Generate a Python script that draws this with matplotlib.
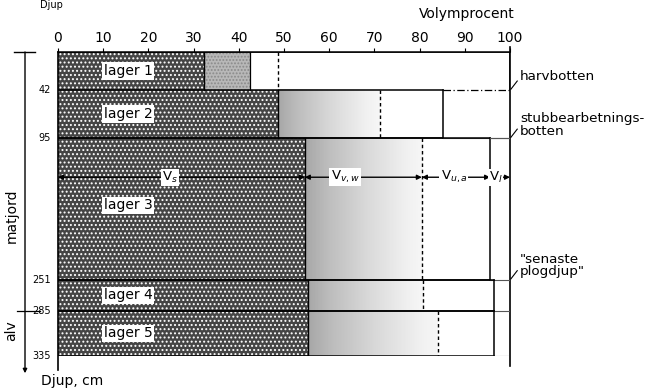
import numpy as np
import matplotlib
matplotlib.use("Agg")
import matplotlib.pyplot as plt
from matplotlib.patches import Rectangle

plt.rcParams['font.family'] = ['DejaVu Sans']
plt.rcParams['hatch.linewidth'] = 0.9

# soil layers, depth in cm
layer_names = ['lager 1', 'lager 2', 'lager 3', 'lager 4', 'lager 5']
depth_top = [0, 42, 95, 251, 285]
depth_bot = [42, 95, 251, 285, 335]
depth_ticks = [42, 95, 251, 285, 335]

# volume percent boundaries for each layer
solid_end = [32.3, 48.7, 54.6, 55.3, 55.3]   # V_s
water_end = [42.5, 71.2, 80.5, 80.8, 84.0]   # V_v,w
dashed_x = [48.7, 71.2, 80.5, 80.8, 84.0]
pore_end = [100, 85.2, 95.6, 96.5, 96.5]     # V_u,a, rest is V_l

fig = plt.figure(figsize=(6.48, 3.91), dpi=100)
ax = fig.add_axes([58 / 648, 35 / 391, 452 / 648, 304 / 391])

grad = np.linspace(0, 1, 64).reshape(1, -1)

for i in range(len(layer_names)):
    top, bot = depth_top[i], depth_bot[i]
    h = bot - top
    # solid phase, speckled
    ax.add_patch(Rectangle((0, top), solid_end[i], h, facecolor='#454545',
                           edgecolor='white', hatch='....', lw=0, zorder=1))
    # water filled pores
    if i == 0:
        ax.add_patch(Rectangle((solid_end[i], top), water_end[i] - solid_end[i], h,
                               facecolor='#b8b8b8', edgecolor='#8a8a8a', hatch='.....',
                               lw=0, zorder=1))
    else:
        ax.imshow(grad, cmap='Greys_r', vmin=-1.5, vmax=1.2, aspect='auto',
                  extent=(solid_end[i], water_end[i], bot, top), zorder=1,
                  interpolation='bilinear')
    # outlines: top, right, bottom (layer 1 bottom is the next layer's top)
    ax.plot([0, pore_end[i]], [top, top], color='black', lw=1.1, zorder=3)
    ax.plot([pore_end[i]] * 2, [top, bot], color='black', lw=1.1, zorder=3)
    if i > 0:
        ax.plot([0, pore_end[i]], [bot, bot], color='black', lw=1.1, zorder=3)
    ax.plot([solid_end[i]] * 2, [top, bot], color='black', lw=1.0, zorder=3)
    if i == 0:
        ax.plot([water_end[i]] * 2, [top, bot], color='black', lw=0.9, zorder=3)
    ax.plot([dashed_x[i]] * 2, [top, bot], color='black', lw=1.0,
            ls=(0, (2.5, 2)), zorder=3)
    if pore_end[i] < 100:
        ax.plot([pore_end[i], 100], [bot, bot], color='#555555', lw=0.8, zorder=3)
    ax.text(15.5, (top + bot) / 2 + (0 if i != 2 else -4), layer_names[i],
            ha='center', va='center', fontsize=10, zorder=5,
            bbox=dict(facecolor='white', edgecolor='none', pad=1.2))

# harvbotten line
ax.plot([85.2, 100], [42, 42], color='black', lw=0.9, ls=(0, (6, 2, 1, 2)), zorder=3)
ax.plot([95.6, 100], [95, 95], color='#555555', lw=0.8, zorder=3)

# volume fractions shown across layer 3
y_arr = 138
bounds = [0, solid_end[2], water_end[2], pore_end[2], 100]
vol_labels = ['V$_s$', 'V$_{v,w}$', 'V$_{u,a}$', 'V$_l$']
label_x = [24.8, 63.5, 87.6, 96.8]
for j in range(4):
    ax.annotate('', xy=(bounds[j], y_arr), xytext=(bounds[j + 1], y_arr),
                arrowprops=dict(arrowstyle='<|-|>', color='black', lw=1.0,
                                mutation_scale=7, shrinkA=0, shrinkB=0), zorder=4)
    ax.text(label_x[j], y_arr, vol_labels[j], ha='center', va='center', fontsize=9.5,
            zorder=5, bbox=dict(facecolor='white', edgecolor='none', pad=0.8))

# axes frame
ax.set_xlim(0, 100)
ax.set_ylim(335, 0)
ax.xaxis.tick_top()
ax.set_xticks(range(0, 101, 10))
ax.tick_params(axis='x', direction='out', length=3, pad=2, labelsize=10)
ax.set_yticks([])
for s in ['left', 'right', 'bottom']:
    ax.spines[s].set_visible(False)
ax.spines['top'].set_linewidth(1.1)
ax.plot([0, 0], [0, 350], color='black', lw=1.2, clip_on=False)
ax.plot([100, 100], [-5, 346], color='black', lw=1.2, clip_on=False)

for d in depth_ticks:
    ax.text(-1.5, d, str(d), ha='right', va='center', fontsize=7)

# matjord / alv bracket
ax.plot([-9.7, -5.1], [0, 0], color='black', lw=1.0, clip_on=False)
ax.plot([-9.1, -4.0], [285, 285], color='black', lw=0.9, clip_on=False)
ax.annotate('', xy=(-7.3, 354), xytext=(-7.3, 0), annotation_clip=False,
            arrowprops=dict(arrowstyle='-|>', color='black', lw=1.0,
                            mutation_scale=6, shrinkA=0, shrinkB=0))
ax.text(-10.3, 180, 'matjord', rotation=90, ha='center', va='center',
        fontsize=10, clip_on=False)
ax.text(-10.3, 307, 'alv', rotation=90, ha='center', va='center',
        fontsize=10, clip_on=False)
ax.text(-3.8, 362, 'Djup, cm', ha='left', va='center', fontsize=10)

# right side notes
notes = ['harvbotten', 'stubbearbetnings-\nbotten', '"senaste\nplogdjup"']
note_y = [27.5, 80.5, 235]
note_from = [42, 95, 251]
for txt, y, y0 in zip(notes, note_y, note_from):
    ax.text(102.2, y, txt, ha='left', va='center', fontsize=9.7, linespacing=0.95)
    ax.plot([100.2, 101.6], [y0 - 1, y0 - 10], color='black', lw=0.8,
            clip_on=False)

fig.text(467 / 648, 1 - 14 / 391, 'Volymprocent', ha='center', va='center',
         fontsize=10)
fig.text(40 / 648, 0.999, 'Djup', ha='left', va='top', fontsize=7)

fig.savefig('out.png', dpi=100)
